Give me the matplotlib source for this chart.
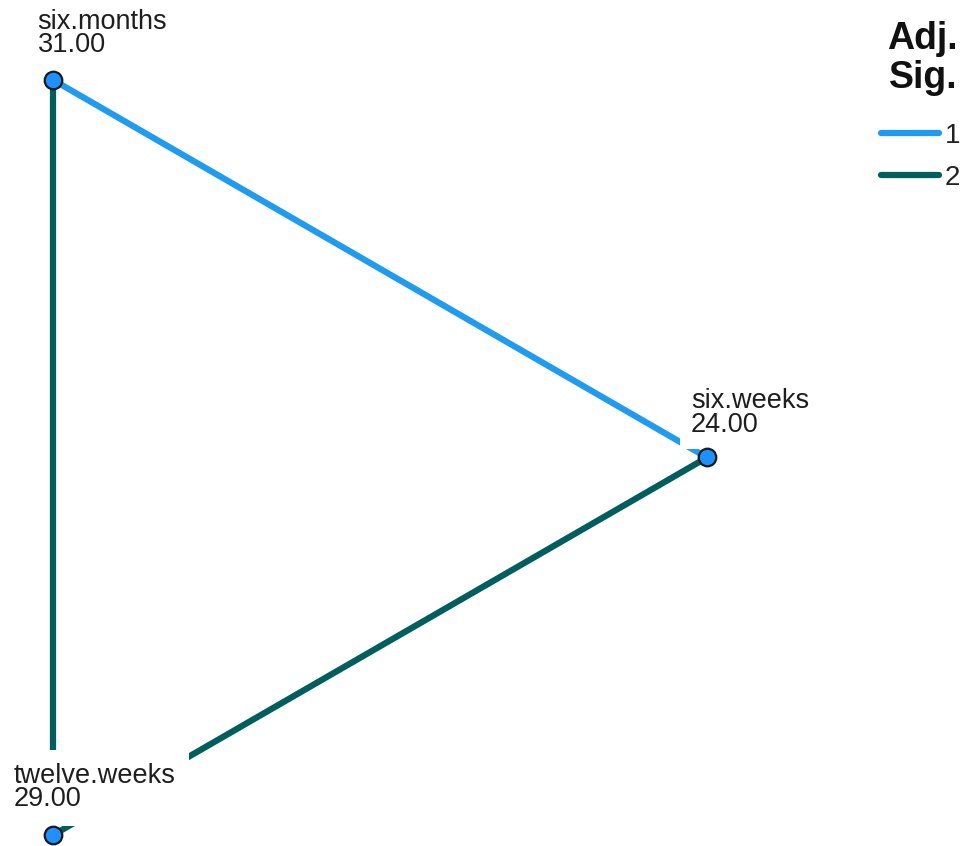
import matplotlib.pyplot as plt
import numpy as np

plt.rcParams['font.family'] = ['Liberation Sans', 'DejaVu Sans']

# nodes: name, mean rank
node_names = ['six.weeks', 'six.months', 'twelve.weeks']
mean_ranks = [24.00, 31.00, 29.00]

# edges between nodes and their homogeneous subset (Adj. Sig. group)
edges = [(1, 0), (1, 2), (0, 2)]
edge_groups = [1, 2, 2]

group_labels = ['1', '2']
group_colors = {1: '#1f9bef', 2: '#005f5c'}

fig = plt.figure(figsize=(9.69, 8.46), dpi=100)
ax = fig.add_axes([0, 0, 1, 1])
ax.set_xlim(0, 969)
ax.set_ylim(846, 0)
ax.axis('off')

# nodes on a circle (SPSS layout)
cx, cy, r = 270.7, 457.5, 436.3
angles = np.deg2rad([0, 120, 240])
xs = cx + r * np.cos(angles)
ys = cy - r * np.sin(angles)

for (a, b), g in zip(edges, edge_groups):
    ax.plot([xs[a], xs[b]], [ys[a], ys[b]], color=group_colors[g], lw=4.5,
            solid_capstyle='butt', zorder=1)

# labels with white background (they hide the lines underneath)
label_off = [(-16, -69), (-15, -71), (-39, -72)]
label_pad = [8, 8, 9.5]
for i, name in enumerate(node_names):
    dx, dy = label_off[i]
    ax.text(xs[i] + dx, ys[i] + dy, '%s\n%.2f' % (name, mean_ranks[i]),
            fontsize=19.5, linespacing=0.85, ha='left', va='top',
            color='#1e1e1e', zorder=2,
            bbox=dict(facecolor='white', edgecolor='none', pad=label_pad[i]))

ax.scatter(xs, ys, s=160, facecolor='#1e90ff', edgecolor='#1a1a1a',
           linewidth=1.6, zorder=3)

# legend
ax.text(958, 21, 'Adj.\nSig.', fontsize=27, fontweight='bold', ha='right',
        va='top', linespacing=1.12, color='#111111')
leg_y = [133, 175]
for i, lab in enumerate(group_labels):
    ax.plot([881, 939], [leg_y[i], leg_y[i]], color=group_colors[i + 1],
            lw=4.5, solid_capstyle='round')
    ax.text(945, leg_y[i] + 3, lab, fontsize=20, ha='left', va='center',
            color='#222222')

fig.savefig('out.png', dpi=100)
